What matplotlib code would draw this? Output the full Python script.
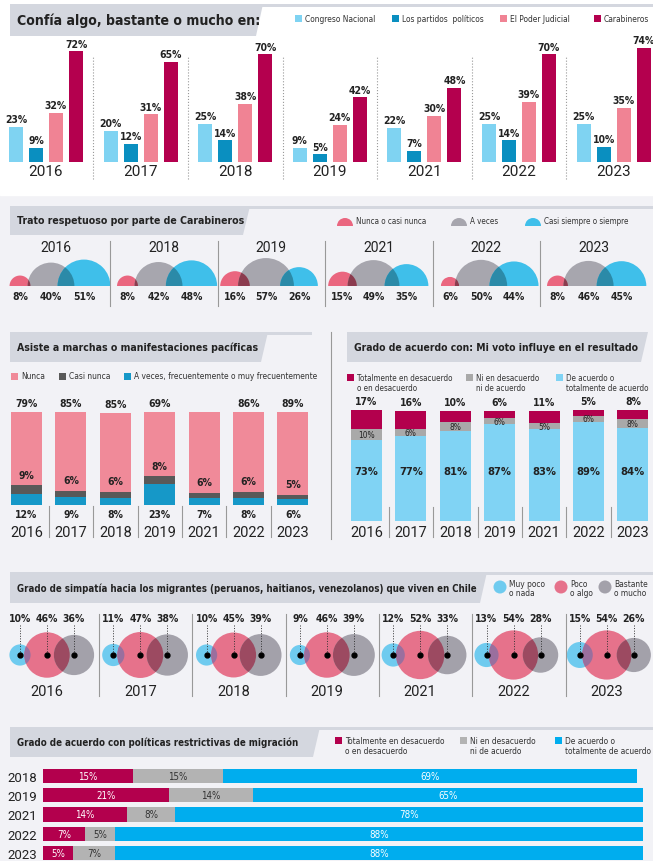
import numpy as np
import matplotlib.pyplot as plt
from matplotlib.patches import Polygon, Rectangle, Wedge, Circle

plt.rcParams['font.family'] = ['DejaVu Sans']
plt.rcParams['font.stretch'] = 'condensed'

W, H = 653, 862

# ---- datos ----
conf_years = ['2016', '2017', '2018', '2019', '2021', '2022', '2023']
conf_congreso = [23, 20, 25, 9, 22, 25, 25]
conf_partidos = [9, 12, 14, 5, 7, 14, 10]
conf_judicial = [32, 31, 38, 24, 30, 39, 35]
conf_carabineros = [72, 65, 70, 42, 48, 70, 74]

trato_years = ['2016', '2018', '2019', '2021', '2022', '2023']
trato_nunca = [8, 8, 16, 15, 6, 8]
trato_aveces = [40, 42, 57, 49, 50, 46]
trato_siempre = [51, 48, 26, 35, 44, 45]

marcha_years = ['2016', '2017', '2018', '2019', '2021', '2022', '2023']
marcha_nunca = [79, 85, 85, 69, 88, 86, 89]
marcha_casi = [9, 6, 6, 8, 6, 6, 5]
marcha_aveces = [12, 9, 8, 23, 7, 8, 6]

voto_years = ['2016', '2017', '2018', '2019', '2021', '2022', '2023']
voto_desacuerdo = [17, 16, 10, 6, 11, 5, 8]
voto_ni = [10, 6, 8, 6, 5, 6, 8]
voto_acuerdo = [73, 77, 81, 87, 83, 89, 84]

simp_years = ['2016', '2017', '2018', '2019', '2021', '2022', '2023']
simp_poco_nada = [10, 11, 10, 9, 12, 13, 15]
simp_poco_algo = [46, 47, 45, 46, 52, 54, 54]
simp_bastante = [36, 38, 39, 39, 33, 28, 26]

restr_years = ['2018', '2019', '2021', '2022', '2023']
restr_desacuerdo = [15, 21, 14, 7, 5]
restr_ni = [15, 14, 8, 5, 7]
restr_acuerdo = [69, 65, 78, 88, 88]

# colores
HEAD = '#d4d7df'
TXT = '#222222'
CYAN = '#7fd3f2'
BLUE = '#0a8fc0'
PINK = '#f08394'
CRIMSON = '#b4004e'
YEARFONT = ['Roboto', 'DejaVu Sans']
PCT = 7.5   # etiquetas de porcentaje
LEG = 6     # textos de leyenda

fig = plt.figure(figsize=(W / 100, H / 100), dpi=100)
fig.patch.set_facecolor('#f2f2f6')


def px_axes(x0, y0, x1, y1):
    ax = fig.add_axes([x0 / W, 1 - y1 / H, (x1 - x0) / W, (y1 - y0) / H])
    ax.patch.set_alpha(0)
    for s in ax.spines.values():
        s.set_visible(False)
    ax.set_xticks([])
    ax.set_yticks([])
    return ax


bg = px_axes(0, 0, W, H)
bg.set_xlim(0, W)
bg.set_ylim(H, 0)
bg.add_patch(Rectangle((0, 0), W, 196, color='white', zorder=0))


def header(x0, y0, x1, y1, title, size, line_to=None):
    bg.add_patch(Polygon([(x0, y0), (x1, y0), (x1 - 7, y1), (x0, y1)], closed=True, color=HEAD, lw=0))
    if line_to:
        bg.add_patch(Rectangle((x1 - 1, y0), line_to - x1 + 1, 2.5, color=HEAD, lw=0))
    bg.text(x0 + 7, (y0 + y1) / 2, title, fontsize=size, fontweight='bold', va='center', color=TXT)


def sq(x, y, color, text, size=LEG, s=7):
    bg.add_patch(Rectangle((x, y - s / 2), s, s, color=color, lw=0))
    bg.text(x + s + 3, y, text, fontsize=size, va='center', color='#333', linespacing=1.0)


def sq2(x, y, color, text, size=LEG, s=7):
    # leyenda de dos lineas
    bg.add_patch(Rectangle((x, y - 3), s, s, color=color, lw=0))
    bg.text(x + s + 3, y - 4, text, fontsize=size, va='top', color='#333', linespacing=1.1)


# ---------- 1. Confia ----------
header(10, 5, 263, 37, 'Confía algo, bastante o mucho en:', 10.1, line_to=W)
sq(295, 19, CYAN, 'Congreso Nacional')
sq(392, 19, BLUE, 'Los partidos  políticos')
sq(500, 19, PINK, 'El Poder Judicial')
sq(594, 19, CRIMSON, 'Carabineros')

ax1 = px_axes(0, 40, W, 163)
ax1.set_ylim(0, 80)
ax1.set_xlim(-46 / 94.6, (W - 46) / 94.6)
x = np.arange(len(conf_years))
step, bw = 20 / 94.6, 14 / 94.6
for j, (vals, c) in enumerate([(conf_congreso, CYAN), (conf_partidos, BLUE),
                               (conf_judicial, PINK), (conf_carabineros, CRIMSON)]):
    xs = x + (j - 1.5) * step
    ax1.bar(xs, vals, bw, color=c)
    for xi, v in zip(xs, vals):
        ax1.annotate(f'{v}%', (xi, v), xytext=(0, 2), textcoords='offset points',
                     ha='center', va='bottom', fontsize=PCT, fontweight='bold', color=TXT)
for k, yr in enumerate(conf_years):
    ax1.text(k, -6, yr, ha='center', va='center', fontsize=11, family=YEARFONT, color=TXT)
for k in range(len(conf_years) - 1):
    ax1.plot([k + 0.5] * 2, [-11, 69], ls=':', color='#999999', lw=0.8, clip_on=False)

# ---------- 2. Trato ----------
header(10, 207, 250, 236, 'Trato respetuoso por parte de Carabineros', 7.6, line_to=W)
T_PINK, T_GRAY, T_BLUE = '#ea667f', '#a7a6ae', '#3fbfea'
for xc, c, lab in [(345, T_PINK, 'Nunca o casi nunca'), (459, T_GRAY, 'A veces'),
                   (533, T_BLUE, 'Casi siempre o siempre')]:
    bg.add_patch(Wedge((xc, 227), 8, 180, 360, color=c, lw=0))
    bg.text(xc + 11, 222, lab, fontsize=5.8, va='center', color='#333')

ax2 = px_axes(0, 230, W, 287)
ax2.set_xlim(0, W)
ax2.set_ylim(0, 57)
k_r = 3.7

for i, yr in enumerate(trato_years):
    c = 56 + 107.5 * i
    pos = [c - 36, c - 5, c + 28]
    vals = [trato_nunca[i], trato_aveces[i], trato_siempre[i]]
    ax2.add_patch(Wedge((pos[0], 0), k_r * np.sqrt(vals[0]), 0, 180, color=T_PINK, lw=0))
    b = ax2.add_patch(Wedge((pos[1], 0), k_r * np.sqrt(vals[1]), 0, 180, color=T_GRAY, lw=0))
    ax2.add_patch(Wedge((pos[2], 0), k_r * np.sqrt(vals[2]), 0, 180, color=T_BLUE, lw=0))
    # zonas superpuestas
    ov1 = ax2.add_patch(Wedge((pos[0], 0), k_r * np.sqrt(vals[0]), 0, 180, color='#8b3b4e', lw=0))
    ov1.set_clip_path(b)
    ov2 = ax2.add_patch(Wedge((pos[2], 0), k_r * np.sqrt(vals[2]), 0, 180, color='#2b8aa8', lw=0))
    ov2.set_clip_path(b)
    for xp, v in zip(pos, vals):
        ax2.text(xp, -10, f'{v}%', ha='center', va='center', fontsize=PCT, fontweight='bold', color=TXT)
    ax2.text(c, 39, yr, ha='center', va='center', fontsize=10, family=YEARFONT, color=TXT)
    if i < len(trato_years) - 1:
        ax2.plot([c + 54] * 2, [-20, 45], color='#999999', lw=0.8, clip_on=False)

# ---------- 3a. Marchas ----------
header(10, 333, 268, 363, 'Asiste a marchas o manifestaciones pacíficas', 7.6, line_to=312)
M_PINK, M_DARK, M_BLUE = '#f08a99', '#595959', '#1698c8'
sq(11, 377, M_PINK, 'Nunca')
sq(59, 377, M_DARK, 'Casi nunca')
sq(124, 377, M_BLUE, 'A veces, frecuentemente o muy frecuentemente')

ax3 = px_axes(0, 413, 330, 506)
ax3.set_ylim(0, 100)
ax3.set_xlim(-26.5 / 44.4, (330 - 26.5) / 44.4)
x = np.arange(len(marcha_years))
ax3.bar(x, marcha_aveces, 0.7, color=M_BLUE)
ax3.bar(x, marcha_casi, 0.7, bottom=marcha_aveces, color=M_DARK)
bot = np.array(marcha_aveces) + np.array(marcha_casi)
ax3.bar(x, marcha_nunca, 0.7, bottom=bot, color=M_PINK)
for k in range(len(marcha_years)):
    ax3.annotate(f'{marcha_nunca[k]}%', (k, bot[k] + marcha_nunca[k]), xytext=(0, 3), textcoords='offset points',
                 ha='center', va='bottom', fontsize=PCT, fontweight='bold', color=TXT)
    ax3.annotate(f'{marcha_casi[k]}%', (k, bot[k]), xytext=(0, 4), textcoords='offset points',
                 ha='center', va='bottom', fontsize=PCT, fontweight='bold', color=TXT)
    ax3.annotate(f'{marcha_aveces[k]}%', (k, 0), xytext=(0, -3), textcoords='offset points',
                 ha='center', va='top', fontsize=PCT, fontweight='bold', color=TXT)
    ax3.text(k, -29, marcha_years[k], ha='center', va='center', fontsize=10.5, family=YEARFONT, color=TXT)
    if k < len(marcha_years) - 1:
        ax3.plot([k + 0.5] * 2, [-1, -34], color='#999999', lw=0.8, clip_on=False)

bg.plot([331, 331], [333, 540], color='#999999', lw=0.8)

# ---------- 3b. Voto ----------
header(347, 333, 648, 363, 'Grado de acuerdo con: Mi voto influye en el resultado', 7.5)
V_CRIM, V_GRAY, V_CYAN = '#b3004d', '#a9a9a9', '#80d3f4'
sq2(347, 378, V_CRIM, 'Totalmente en desacuerdo\no en desacuerdo', size=5.8)
sq2(466, 378, V_GRAY, 'Ni en desacuerdo\nni de acuerdo', size=5.8)
sq2(556, 378, V_CYAN, 'De acuerdo o\ntotalmente de acuerdo', size=5.8)

ax4 = px_axes(330, 411, W, 522)
ax4.set_ylim(0, 100)
ax4.set_xlim(-36.5 / 44.4, (323 - 36.5) / 44.4)
x = np.arange(len(voto_years))
ax4.bar(x, voto_acuerdo, 0.7, color=V_CYAN)
ax4.bar(x, voto_ni, 0.7, bottom=voto_acuerdo, color=V_GRAY)
bot = np.array(voto_acuerdo) + np.array(voto_ni)
ax4.bar(x, voto_desacuerdo, 0.7, bottom=bot, color=V_CRIM)
for k in range(len(voto_years)):
    ax4.annotate(f'{voto_desacuerdo[k]}%', (k, bot[k] + voto_desacuerdo[k]), xytext=(0, 3),
                 textcoords='offset points', ha='center', va='bottom', fontsize=PCT, fontweight='bold', color=TXT)
    ax4.text(k, voto_acuerdo[k] + voto_ni[k] / 2, f'{voto_ni[k]}%', ha='center', va='center',
             fontsize=6, color=TXT)
    ax4.text(k, 45, f'{voto_acuerdo[k]}%', ha='center', va='center', fontsize=8, fontweight='bold', color=TXT)
    ax4.text(k, -10, voto_years[k], ha='center', va='center', fontsize=10.5, family=YEARFONT, color=TXT)
    if k < len(voto_years) - 1:
        ax4.plot([k + 0.5] * 2, [13, -14], color='#999999', lw=0.8, clip_on=False)

# ---------- 4. Simpatia ----------
header(10, 573, 487, 604,
       'Grado de simpatía hacia los migrantes (peruanos, haitianos, venezolanos) que viven en Chile', 6.9,
       line_to=W)
S_BLUE, S_PINK, S_GRAY = '#6fcbef', '#e6728b', '#a3a1aa'
for xc, c, lab in [(500, S_BLUE, 'Muy poco\no nada'), (561, S_PINK, 'Poco\no algo'),
                   (605, S_GRAY, 'Bastante\no mucho')]:
    bg.add_patch(Circle((xc, 588), 6.5, color=c, lw=0))
    bg.text(xc + 9, 589, lab, fontsize=LEG, va='center', color='#333', linespacing=1.1)

ax5 = px_axes(0, 600, W, 700)
ax5.set_xlim(0, W)
ax5.set_ylim(700, 600)
k_c = 3.35
cy = 656
for i, yr in enumerate(simp_years):
    x0 = 20 + 93.3 * i
    pos = [x0, x0 + 27, x0 + 54]
    vals = [simp_poco_nada[i], simp_poco_algo[i], simp_bastante[i]]
    ax5.add_patch(Circle((pos[0], cy), k_c * np.sqrt(vals[0]), color=S_BLUE, lw=0))
    cp = ax5.add_patch(Circle((pos[1], cy), k_c * np.sqrt(vals[1]), color=S_PINK, lw=0))
    ax5.add_patch(Circle((pos[2], cy), k_c * np.sqrt(vals[2]), color=S_GRAY, lw=0))
    o1 = ax5.add_patch(Circle((pos[0], cy), k_c * np.sqrt(vals[0]), color='#9a6f9e', lw=0))
    o1.set_clip_path(cp)
    o2 = ax5.add_patch(Circle((pos[2], cy), k_c * np.sqrt(vals[2]), color='#9c4a61', lw=0))
    o2.set_clip_path(cp)
    for xp, v in zip(pos, vals):
        ax5.text(xp, 619, f'{v}%', ha='center', va='center', fontsize=PCT, fontweight='bold', color=TXT)
        ax5.plot([xp, xp], [626, cy], ls=':', color='#333333', lw=0.7)
        ax5.plot(xp, cy, 'o', ms=3.5, color='black')
    ax5.text(pos[1], 692, yr, ha='center', va='center', fontsize=10.5, family=YEARFONT, color=TXT,
             clip_on=False)
    if i < len(simp_years) - 1:
        ax5.plot([pos[1] + 52] * 2, [615, 697], color='#999999', lw=0.8)

# ---------- 5. Politicas restrictivas ----------
header(10, 728, 320, 758, 'Grado de acuerdo con políticas restrictivas de migración', 7, line_to=W)
R_CRIM, R_GRAY, R_CYAN = '#b3004d', '#b3b3b3', '#00adee'
sq2(335, 741, R_CRIM, 'Totalmente en desacuerdo\no en desacuerdo')
sq2(460, 741, R_GRAY, 'Ni en desacuerdo\nni de acuerdo')
sq2(555, 741, R_CYAN, 'De acuerdo o\ntotalmente de acuerdo')

ax6 = px_axes(43, 767, 643, 862)
ax6.set_xlim(0, 100)
ax6.set_ylim((862 - 777) / 19.25, (767 - 777) / 19.25)
y = np.arange(len(restr_years))
ax6.barh(y, restr_desacuerdo, 0.73, color=R_CRIM)
ax6.barh(y, restr_ni, 0.73, left=restr_desacuerdo, color=R_GRAY)
left2 = np.array(restr_desacuerdo) + np.array(restr_ni)
ax6.barh(y, restr_acuerdo, 0.73, left=left2, color=R_CYAN)
for k in range(len(restr_years)):
    ax6.text(restr_desacuerdo[k] / 2, k, f'{restr_desacuerdo[k]}%', ha='center', va='center',
             fontsize=7, color='white')
    ax6.text(restr_desacuerdo[k] + restr_ni[k] / 2, k, f'{restr_ni[k]}%', ha='center', va='center',
             fontsize=7, color='#333')
    ax6.text(left2[k] + restr_acuerdo[k] / 2, k, f'{restr_acuerdo[k]}%', ha='center', va='center',
             fontsize=7, color='white')
ax6.set_yticks(y, restr_years, fontsize=9.5, family=YEARFONT, color=TXT)
ax6.tick_params(length=0, pad=4)

fig.savefig('out.png', dpi=100, facecolor=fig.get_facecolor())
